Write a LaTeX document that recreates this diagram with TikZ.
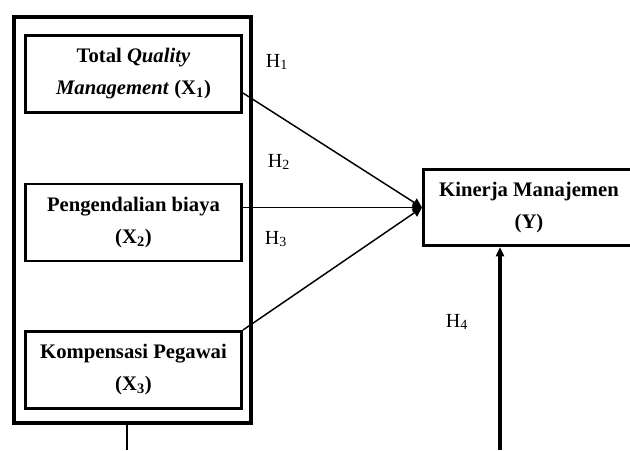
\documentclass[tikz,border=0pt]{standalone}
\usepackage{fontspec}
\setmainfont{Liberation Serif}
\usetikzlibrary{arrows.meta, positioning}
\tikzstyle{frame} = [rectangle, minimum width=177.75pt, minimum height=304.5pt, draw=black, line width=3.3pt]
\tikzstyle{box} = [rectangle, minimum width=162pt, minimum height=57.75pt, align=center, draw=black, line width=2.2pt, fill=white, font=\fontsize{15.5}{24}\selectfont\bfseries]
\tikzstyle{box2} = [box, minimum width=158.25pt, minimum height=57pt]
\tikzstyle{hyp} = [font=\fontsize{15}{17}\selectfont]
\tikzstyle{line} = [line width=1.1pt, -{Triangle[length=7pt,width=7pt]}]
\tikzstyle{arrow} = [line width=2.4pt, -{Triangle[length=7pt,width=6pt]}]

\begin{document}
\begin{tikzpicture}[x=0.75pt, y=-0.75pt]
				\useasboundingbox (0,0) rectangle (630,450);
				\node (grp) [frame] at (132.5,220) {};
				\node (tqm) [box] at (133.5,74) {Total \textit{Quality}\\\textit{Management} (X\textsubscript{1})};
				\node (biaya) [box] at (133.5,222.5) {Pengendalian biaya\\(X\textsubscript{2})};
				\node (komp) [box] at (133.5,370) {Kompensasi Pegawai\\(X\textsubscript{3})};
				\node (kinerja) [box2] at (529,207.5) {Kinerja Manajemen\\(Y)};
				\node (h1) [hyp] at (277,62) {H\textsubscript{1}};
				\node (h2) [hyp] at (279,162) {H\textsubscript{2}};
				\node (h3) [hyp] at (276,239) {H\textsubscript{3}};
				\node (h4) [hyp] at (457,322) {H\textsubscript{4}};
				\coordinate (hsrc) at (500,450);
				\coordinate (gout) at (127,450);
				\draw[line] ([yshift=-14.25pt]tqm.east) -- (kinerja.west);
				\draw[line] (biaya.east |- kinerja.west) -- (kinerja.west);
				\draw[line] (komp.north east) -- (kinerja.west);
				\draw[arrow] (hsrc) -- (hsrc |- kinerja.south);
				\draw[line width=2.2pt] (grp.south -| gout) -- (gout);
			\end{tikzpicture}
\end{document}
